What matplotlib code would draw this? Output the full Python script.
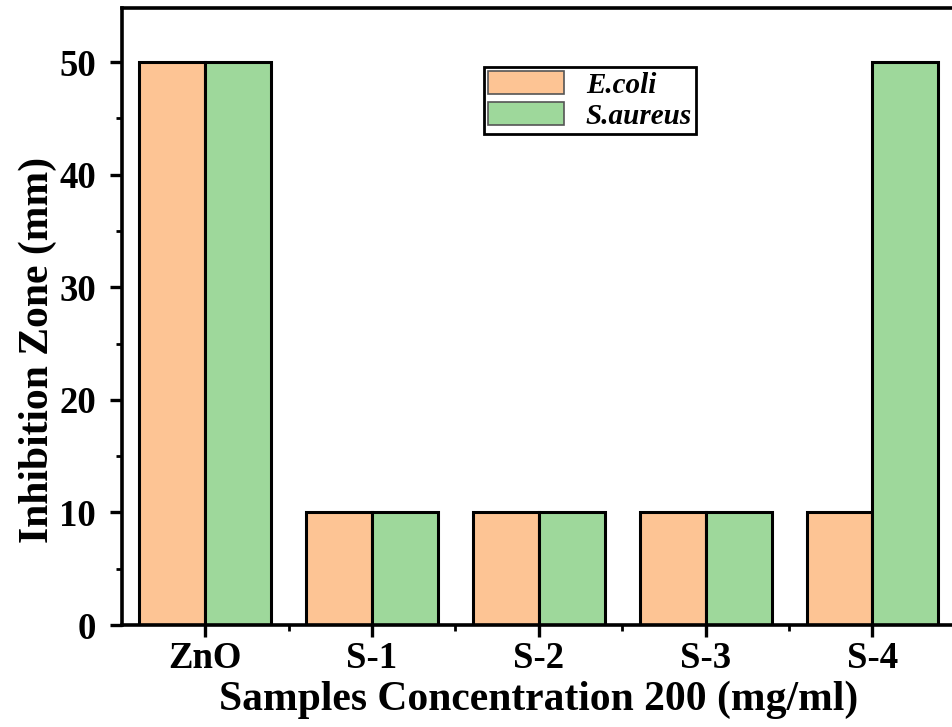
import matplotlib.pyplot as plt
import numpy as np
from matplotlib.ticker import MultipleLocator, FixedLocator

# data
samples = ["ZnO", "S-1", "S-2", "S-3", "S-4"]
e_coli = [50, 10, 10, 10, 10]
s_aureus = [50, 10, 10, 10, 50]

plt.rcParams['font.family'] = ['Liberation Serif', 'DejaVu Serif']
plt.rcParams['font.weight'] = 'bold'

fig = plt.figure(figsize=(9.52, 7.27), dpi=100)
ax = fig.add_axes([0.128, 0.1403, 0.876, 0.8487])

x = np.arange(len(samples))
w = 0.395
ax.bar(x - w / 2, e_coli, w, color='#FDC494', edgecolor='black', linewidth=2.2, label='E.coli')
ax.bar(x + w / 2, s_aureus, w, color='#9ED89B', edgecolor='black', linewidth=2.2, label='S.aureus')

ax.set_xlim(-0.5, len(samples) - 0.5)
ax.set_ylim(0, 54.8)
ax.set_xticks(x)
ax.set_xticklabels(samples)
ax.xaxis.set_minor_locator(FixedLocator(x[:-1] + 0.5))
ax.yaxis.set_major_locator(MultipleLocator(10))
ax.yaxis.set_minor_locator(MultipleLocator(5))

for s in ax.spines.values():
    s.set_linewidth(2.6)
ax.tick_params(which='major', direction='out', length=8.5, width=2.4, labelsize=26.5)
ax.tick_params(axis='y', which='major', pad=10)
ax.tick_params(axis='x', which='major', pad=3)
ax.tick_params(which='minor', direction='out', length=4, width=2.0)

ax.set_xlabel("Samples Concentration 200 (mg/ml)", fontsize=30, fontweight='bold', labelpad=3)
ax.set_ylabel("Inhibition Zone (mm)", fontsize=30, fontweight='bold', labelpad=2)
ax.yaxis.label.set_y(0.446)

leg = ax.legend(loc='upper left', bbox_to_anchor=(0.434, 0.905), borderaxespad=0,
                fancybox=False, edgecolor='black', framealpha=1,
                prop={'style': 'italic', 'weight': 'bold', 'size': 21},
                handlelength=2.6, handleheight=0.85, labelspacing=0.12,
                borderpad=0.15, handletextpad=0.75)
leg.get_frame().set_linewidth(2.0)
for h in leg.legend_handles:
    h.set_linewidth(1.2)
    h.set_edgecolor('#555555')

fig.savefig("out.png", dpi=100)
